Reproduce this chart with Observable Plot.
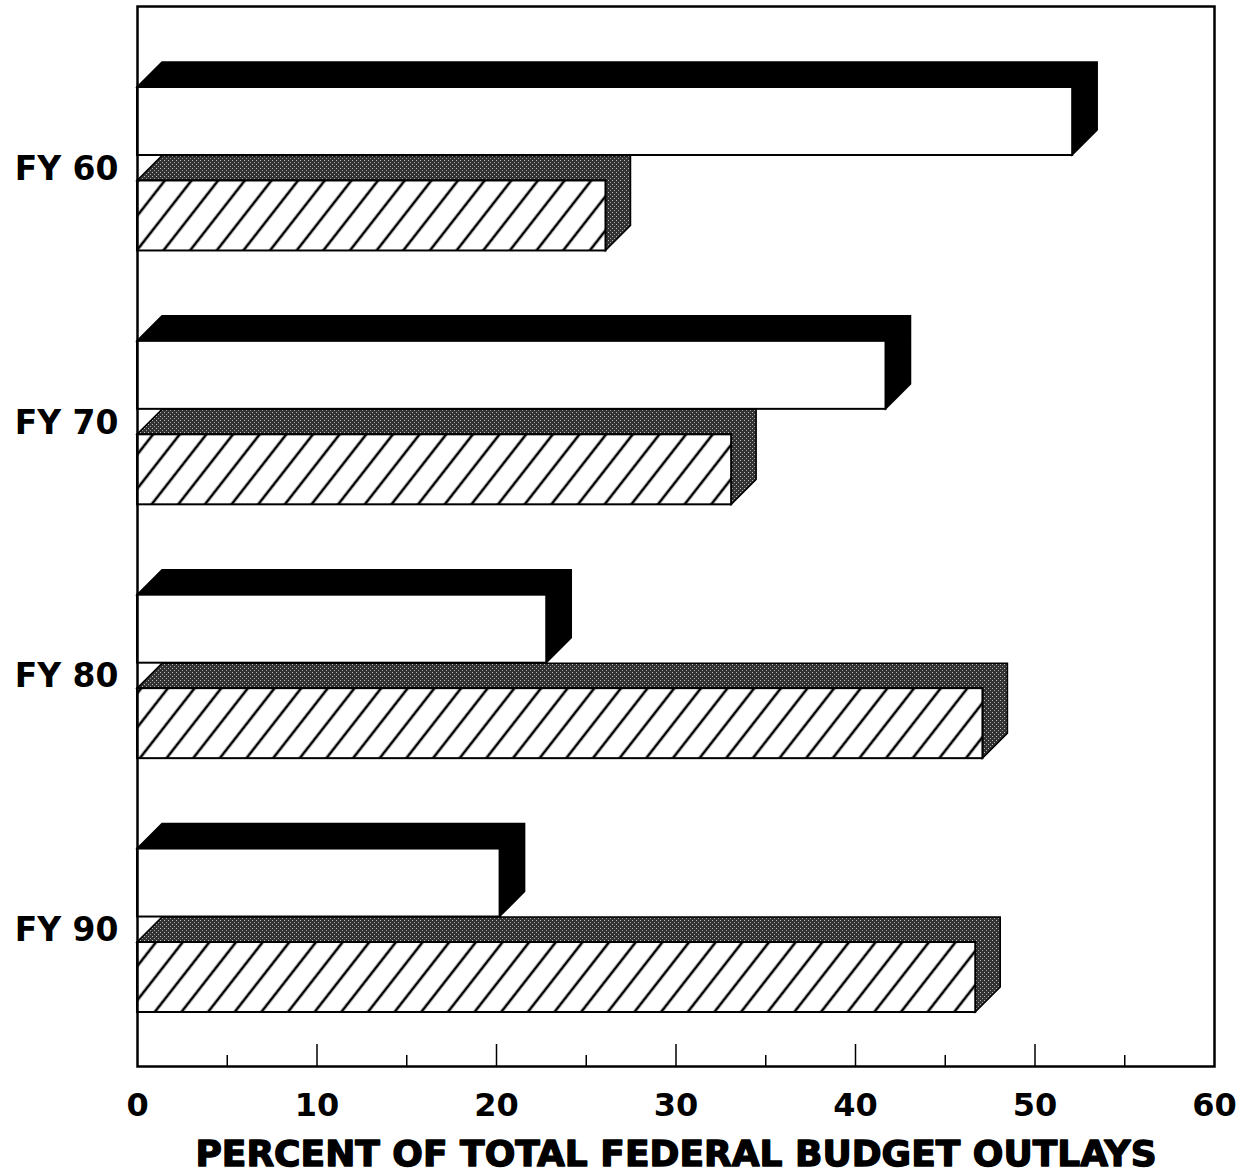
<!DOCTYPE html>
<html><head><meta charset="utf-8">
<script src="https://cdn.jsdelivr.net/npm/d3@7"></script>
<script src="https://cdn.jsdelivr.net/npm/@observablehq/plot@0.6"></script>
<style>body{margin:0;background:#fff}</style>
</head><body><div id="chart"></div>
<script>
const years = ["FY 60", "FY 70", "FY 80", "FY 90"];
const whiteValues = [52.1, 41.7, 22.8, 20.2];
const hatchedValues = [26.1, 33.1, 47.1, 46.7];
const majorTicks = [0, 10, 20, 30, 40, 50, 60];
const minorTicks = [5, 15, 25, 35, 45, 55];
const xLabel = "PERCENT OF TOTAL FEDERAL BUDGET OUTLAYS";

const whiteBars = years.map((year, i) => ({year, value: whiteValues[i]}));
const hatchedBars = years.map((year, i) => ({year, value: hatchedValues[i]}));

const W = 1248, H = 1176, mT = 6, mB = 110, mL = 137, mR = 34;
const plotH = H - mT - mB;
const DEPTH = 25, WHITE_H = 68, HATCH_H = 70;
const yRange = [87, 1012], padInner = 0.356;
const BW = d3.scaleBand(years, yRange).paddingInner(padInner).paddingOuter(0).bandwidth();
const FONT = "DejaVu Sans, Liberation Sans, sans-serif";

function defsMark() {
  const g = document.createElementNS("http://www.w3.org/2000/svg", "g");
  g.innerHTML = `<defs>
    <pattern id="hatch" patternUnits="userSpaceOnUse" width="21" height="21" patternTransform="rotate(38)">
      <rect width="21" height="21" fill="#fff"/>
      <line x1="10" y1="-2" x2="10" y2="23" stroke="#000" stroke-width="2.6"/>
    </pattern>
    <pattern id="stipple" patternUnits="userSpaceOnUse" width="4" height="4">
      <rect width="4" height="4" fill="#333"/>
      <rect x="0" y="0" width="1" height="1" fill="#bbb"/>
      <rect x="2" y="2" width="1" height="1" fill="#a0a0a0"/>
    </pattern></defs>`;
  return g;
}

function depthFaces(bars, offsetTop, faceH, fill) {
  return (index, scales) => {
    const {x, y} = scales;
    const g = d3.create("svg:g");
    for (const b of bars) {
      const x0 = x(0), x1 = x(b.value);
      const yt = y(b.year) + offsetTop, yb = yt + faceH;
      const d = DEPTH;
      g.append("path")
        .attr("d", `M${x0},${yt}L${x0 + d},${yt - d}L${x1 + d},${yt - d}L${x1 + d},${yb - d}L${x1},${yb}L${x1},${yt}Z`)
        .attr("fill", fill).attr("stroke", "#000").attr("stroke-width", 1.5);
    }
    return g.node();
  };
}

const heavy = {fontWeight: "bold", fill: "#000", stroke: "#000", strokeWidth: 1.4};

const chart = Plot.plot({
  width: W, height: H,
  marginTop: mT, marginBottom: mB, marginLeft: mL, marginRight: mR,
  style: {fontFamily: FONT, fontWeight: "bold", background: "#fff", color: "#000"},
  x: {domain: [0, 60]},
  y: {type: "band", domain: years, range: yRange, paddingInner: padInner, paddingOuter: 0, align: 0.5, round: false},
  marks: [
    defsMark,
    depthFaces(whiteBars, 0, WHITE_H, "#000"),
    Plot.barX(whiteBars, {x: "value", y: "year", fill: "#fff", stroke: "#000", strokeWidth: 2, insetBottom: BW - WHITE_H}),
    depthFaces(hatchedBars, BW - HATCH_H, HATCH_H, "url(#stipple)"),
    Plot.barX(hatchedBars, {x: "value", y: "year", fill: "url(#hatch)", stroke: "#000", strokeWidth: 2, insetTop: BW - HATCH_H}),
    Plot.ruleX(majorTicks.slice(1, -1), {stroke: "#000", strokeWidth: 1.5, insetTop: plotH - 22}),
    Plot.ruleX(minorTicks, {stroke: "#000", strokeWidth: 1.5, insetTop: plotH - 11}),
    Plot.frame({stroke: "#000", strokeWidth: 2.5}),
    Plot.axisX(majorTicks, {tickSize: 0, tickPadding: 27, fontSize: 32, ...heavy, label: null}),
    Plot.axisY({tickSize: 0, tickPadding: 19, fontSize: 33, ...heavy, label: null}),
    Plot.text([xLabel], {frameAnchor: "bottom", dy: 88, lineAnchor: "middle", fontSize: 36, ...heavy})
  ]
});
document.getElementById("chart").appendChild(chart);
</script>
</body></html>
